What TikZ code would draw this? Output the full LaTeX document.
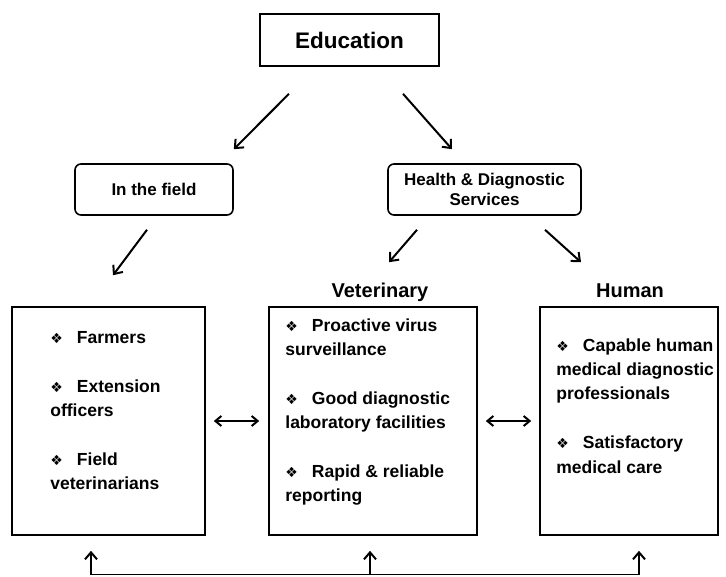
\documentclass[tikz,border=0pt]{standalone}
\usepackage{fontspec}
\setmainfont{Liberation Sans}
\newfontfamily\symfont{DejaVu Sans}
\usetikzlibrary{arrows.meta, calc, positioning}

\newcommand{\itm}{{\symfont\fontsize{14}{14}\selectfont ❖}\hspace{14pt}}

\begin{document}
\begin{tikzpicture}[x=1pt,y=1pt,align=center,font=\bfseries]
\tikzstyle{topbox}=[draw=black,line width=1.6pt,minimum width=179pt,minimum height=52pt,font=\bfseries\fontsize{22.5}{26}\selectfont]
\tikzstyle{midbox}=[draw=black,line width=1.6pt,rounded corners=6pt,minimum height=51pt,font=\bfseries\fontsize{17}{20}\selectfont]
\tikzstyle{bigbox}=[draw=black,line width=1.6pt,minimum height=228pt]
\tikzstyle{items}=[anchor=north west,align=left,inner sep=0pt,font=\bfseries\fontsize{17.5}{24.4}\selectfont]
\tikzstyle{title}=[anchor=base,font=\bfseries\fontsize{20}{22}\selectfont]
\tikzstyle{arr}=[-{Straight Barb[length=7pt,width=12pt]},line width=2pt]
\tikzstyle{dbl}=[{Straight Barb[length=6pt,width=10pt]}-{Straight Barb[length=6pt,width=10pt]},line width=2pt]

\useasboundingbox (0,0) rectangle (726,-577);

\node[topbox] (edu) at (349.5,-40) {Education};
\node[midbox, minimum width=158pt] (field) at (154,-189.5) {In the field};
\node[midbox, minimum width=193pt] (health) at (484.5,-189.5) {Health \& Diagnostic\\Services};

\node[bigbox, minimum width=193pt] (farm) at (108.5,-421) {};
\node[bigbox, minimum width=208pt] (vet) at (373,-421) {};
\node[bigbox, minimum width=178pt] (hum) at (629,-421) {};

\node[title] (vet_t) at (380,-298) {Veterinary};
\node[title] (hum_t) at (630,-298) {Human};

\node[items] (farm_i) at ([shift={(39pt,-25pt)}]farm.north west)
  {\itm Farmers\\[24.4pt]
   \itm Extension\\officers\\[24.4pt]
   \itm Field\\veterinarians};
\node[items] (vet_i) at ([shift={(17pt,-12pt)}]vet.north west)
  {\itm Proactive virus\\surveillance\\[24.4pt]
   \itm Good diagnostic\\laboratory facilities\\[24.4pt]
   \itm Rapid \& reliable\\reporting};
\node[items] (hum_i) at ([shift={(17pt,-32pt)}]hum.north west)
  {\itm Capable human\\medical diagnostic\\professionals\\[24.4pt]
   \itm Satisfactory\\medical care};

% arrows from the top down
\draw[arr] ([shift={(-60.5pt,-27pt)}]edu.south) -- ([yshift=14pt]field.north east);
\draw[arr] ([shift={(53.5pt,-27pt)}]edu.south) -- ([shift={(-32.5pt,14pt)}]health.north);
\draw[arr] ([shift={(-7pt,-14pt)}]field.south) -- ([shift={(4.5pt,31pt)}]farm.north);
\draw[arr] ([shift={(-67.5pt,-14pt)}]health.south) -- ([shift={(16pt,44pt)}]vet.north);
\draw[arr] ([shift={(60.5pt,-14pt)}]health.south) -- ([shift={(-48pt,44pt)}]hum.north);

% links between the boxes
\draw[dbl] ([xshift=8pt]farm.east) -- ([xshift=-9pt]vet.west);
\draw[dbl] ([xshift=8pt]vet.east) -- ([xshift=-8pt]hum.west);

% feedback line along the bottom
\coordinate (b1) at ([shift={(-17.5pt,-39pt)}]farm.south);
\coordinate (b2) at ([shift={(-3pt,-39pt)}]vet.south);
\coordinate (b3) at ([shift={(10pt,-39pt)}]hum.south);
\draw[line width=1.2pt] (b1) -- (b3);
\draw[arr] (b1) -- ([shift={(-17.5pt,-15pt)}]farm.south);
\draw[arr] (b2) -- ([shift={(-3pt,-15pt)}]vet.south);
\draw[arr] (b3) -- ([shift={(10pt,-15pt)}]hum.south);
\end{tikzpicture}
\end{document}
